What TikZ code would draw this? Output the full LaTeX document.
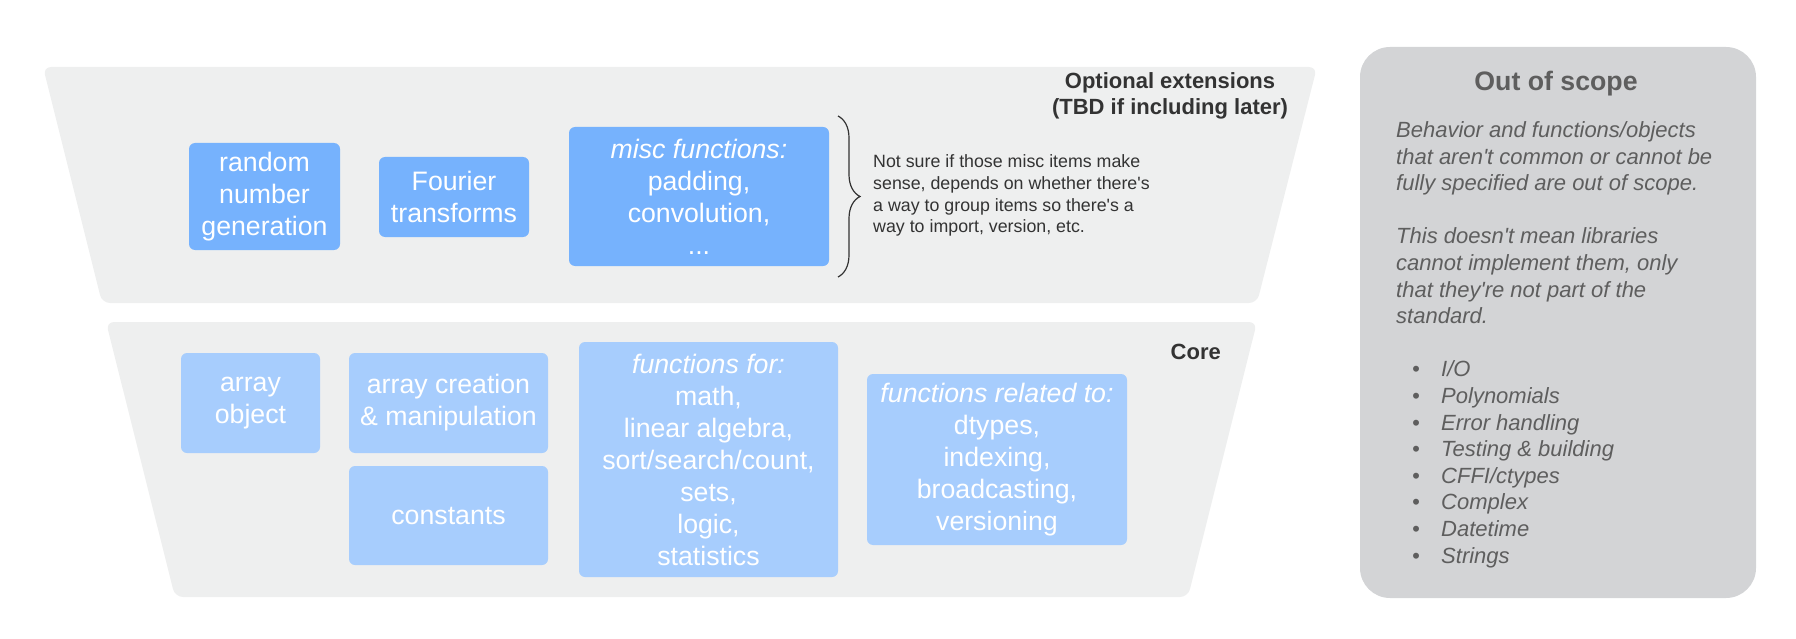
\documentclass[tikz,border=0pt]{standalone}
\usepackage{fontspec}
\setmainfont{Liberation Sans}
\usetikzlibrary{decorations.pathreplacing}
\definecolor{upblue}{HTML}{76B2FD}
\definecolor{lowblue}{HTML}{A7CDFD}
\definecolor{trapfill}{HTML}{EEEFEF}
\definecolor{oosfill}{HTML}{D3D4D6}
\definecolor{darktext}{HTML}{333333}
\definecolor{oostext}{HTML}{5E5E5E}
\begin{document}
\begin{tikzpicture}[x=1pt,y=-1pt,
  boxbase/.style={rounded corners=6pt, inner sep=0pt, align=center, text=white,
    font=\fontsize{26.7}{32}\selectfont},
  upbox/.style={boxbase, fill=upblue},
  lowbox/.style={boxbase, fill=lowblue},
  trap/.style={fill=trapfill, rounded corners=8pt},
  grouptitle/.style={font=\fontsize{22}{26}\selectfont\bfseries, text=darktext, inner sep=0pt, align=center},
  notetext/.style={font=\fontsize{17.8}{21.7}\selectfont, text=darktext, inner sep=0pt, align=left},
  bracestyle/.style={draw=darktext, line width=1.2pt, decorate,
    decoration={brace, amplitude=22pt, aspect=0.5}}
]
\useasboundingbox (0,0) rectangle (1796,639);

% group backgrounds
\fill[trap] (43,67) -- (1317,67) -- (1257,303) -- (102,303) -- cycle;
\fill[trap] (106,322) -- (1257,322) -- (1188,597) -- (175,597) -- cycle;

% optional extensions
\node[grouptitle, anchor=base] (opttitle) at (1170,115) {Optional extensions\\(TBD if including later)};
\node[upbox, minimum width=151pt, minimum height=107pt] (rng) at (264.5,196.5) {random\\number\\generation};
\node[upbox, minimum width=150pt, minimum height=80pt] (fft) at (454,197) {Fourier\\transforms};
\node[upbox, minimum width=260pt, minimum height=139pt] (misc) at (699,196.5) {\textit{misc functions:}\\padding,\\convolution,\\...};
\coordinate (bracetop) at (838,116);
\coordinate (bracebot) at (838,277);
\draw[bracestyle] (bracetop) -- (bracebot);
\node[notetext, anchor=base west] (note) at (873,233) {Not sure if those misc items make\\sense, depends on whether there\textquotesingle s\\a way to group items so there\textquotesingle s a\\way to import, version, etc.};

% core
\node[grouptitle, anchor=base east] (coretitle) at (1221,359) {Core};
\node[lowbox, minimum width=139pt, minimum height=100pt] (arrobj) at (250.5,403) {array\\object};
\node[lowbox, minimum width=199pt, minimum height=100pt] (arrcreate) at (448.5,403) {array creation\\\& manipulation};
\node[lowbox, minimum width=199pt, minimum height=99pt] (const) at (448.5,515.5) {constants};
\node[lowbox, minimum width=259pt, minimum height=235pt] (funcfor) at (708.5,459.5) {\textit{functions for:}\\math,\\linear algebra,\\sort/search/count,\\sets,\\logic,\\statistics};
\node[lowbox, minimum width=260pt, minimum height=171pt] (funcrel) at (997,459.5) {\textit{functions related to:}\\dtypes,\\indexing,\\broadcasting,\\versioning};

% out of scope
\node[fill=oosfill, rounded corners=30pt, minimum width=396pt, minimum height=551pt, inner sep=0pt] (oos) at (1558,322.5) {};
\node[font=\fontsize{26.7}{32}\selectfont\bfseries, text=oostext, anchor=base, inner sep=0pt] (oostitle) at (1556,91) {Out of scope};
\node[font=\fontsize{22}{26.6}\selectfont\itshape, text=oostext, anchor=base west, inner sep=0pt, align=left] (oosbody) at (1396,563) {%
Behavior and functions/objects\\
that aren\textquotesingle t common or cannot be\\
fully specified are out of scope.\\[26.6pt]
This doesn\textquotesingle t mean libraries\\
cannot implement them, only\\
that they\textquotesingle re not part of the\\
standard.\\[26.6pt]
\makebox[45pt][l]{\hspace{16pt}\textbullet}I/O\\
\makebox[45pt][l]{\hspace{16pt}\textbullet}Polynomials\\
\makebox[45pt][l]{\hspace{16pt}\textbullet}Error handling\\
\makebox[45pt][l]{\hspace{16pt}\textbullet}Testing \& building\\
\makebox[45pt][l]{\hspace{16pt}\textbullet}CFFI/ctypes\\
\makebox[45pt][l]{\hspace{16pt}\textbullet}Complex\\
\makebox[45pt][l]{\hspace{16pt}\textbullet}Datetime\\
\makebox[45pt][l]{\hspace{16pt}\textbullet}Strings};
\end{tikzpicture}
\end{document}
